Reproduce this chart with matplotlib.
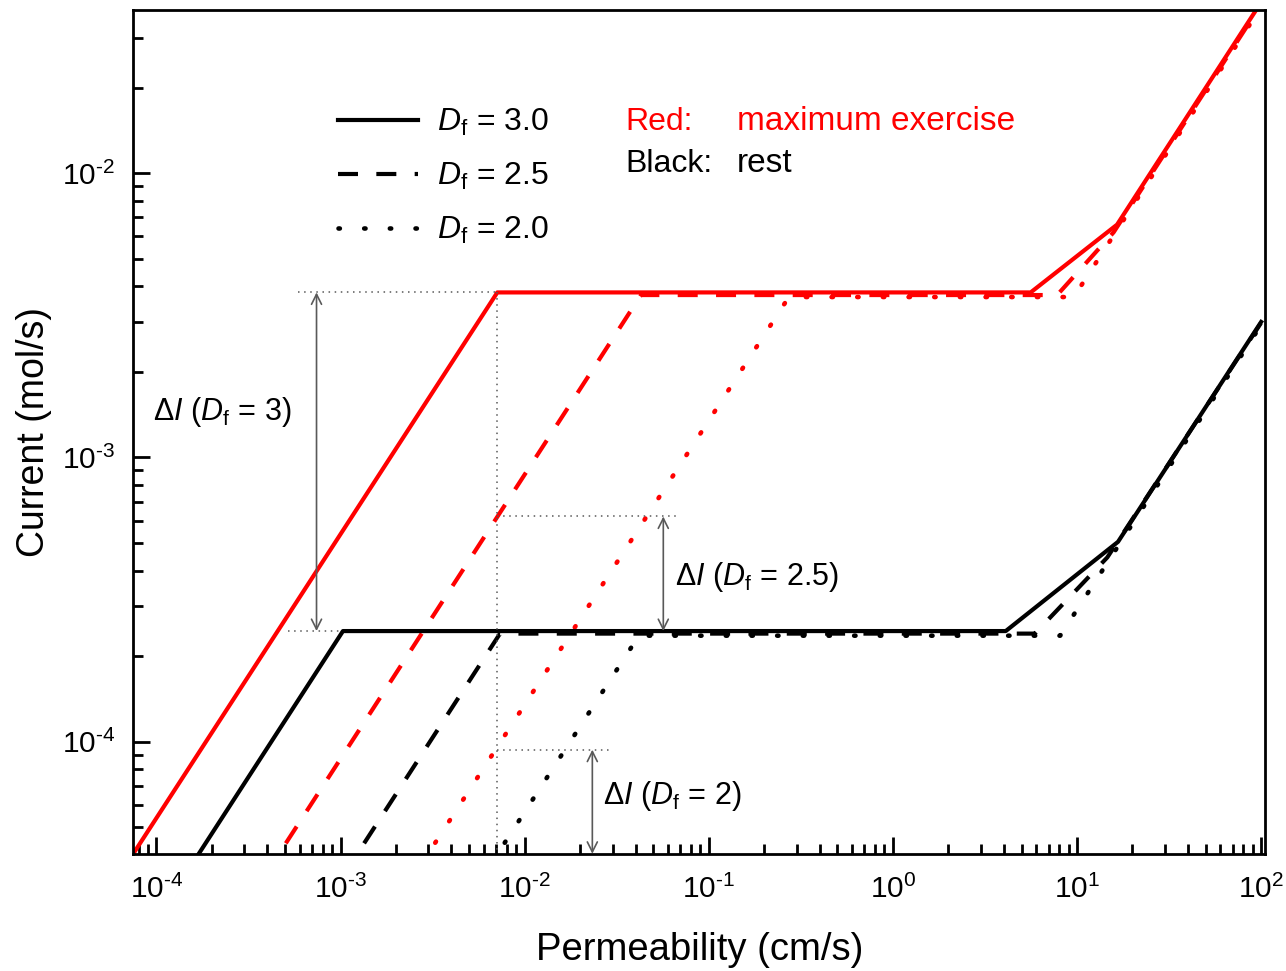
import numpy as np
import matplotlib.pyplot as plt
from matplotlib.lines import Line2D
from matplotlib.ticker import FixedLocator, LogLocator, FuncFormatter, NullFormatter

plt.rcParams['font.family'] = ['Liberation Sans', 'DejaVu Sans']
plt.rcParams['mathtext.fontset'] = 'custom'
plt.rcParams['mathtext.rm'] = 'Liberation Sans'
plt.rcParams['mathtext.it'] = 'Liberation Sans:italic'
plt.rcParams['mathtext.bf'] = 'Liberation Sans:bold'

# データ（グラフから読み取った折れ線の頂点）
# 赤: maximum exercise
p_red_30 = [1e-5, 7.1e-3, 5.6, 16.5, 100]
i_red_30 = [5.4e-6, 3.81e-3, 3.81e-3, 6.6e-3, 0.040]
p_red_25 = [1e-5, 0.0428, 7.8, 15.8, 100]
i_red_25 = [8.7e-7, 3.73e-3, 3.73e-3, 6.2e-3, 0.0393]
p_red_20 = [1e-5, 0.272, 9.6, 100]
i_red_20 = [1.35e-7, 3.67e-3, 3.67e-3, 0.0385]
# 黒: rest
p_blk_30 = [1e-5, 1.03e-3, 4.1, 16.7, 100]
i_blk_30 = [2.37e-6, 2.45e-4, 2.45e-4, 5.05e-4, 3.0e-3]
p_blk_25 = [1e-5, 7.34e-3, 5.9, 14.6, 100]
i_blk_25 = [3.27e-7, 2.40e-4, 2.40e-4, 4.45e-4, 2.98e-3]
p_blk_20 = [1e-5, 0.0417, 8.1, 100]
i_blk_20 = [5.66e-8, 2.36e-4, 2.36e-4, 2.93e-3]

# ΔI の補助線と矢印
p_ref = 7.1e-3
i_top3, i_bot = 3.81e-3, 2.45e-4
i_top25 = 6.2e-4
i_top2, i_min = 9.37e-5, 4.03e-5
p_arrow = [7.4e-4, 0.0566, 0.0233]
labels_df = ['3.0', '2.5', '2.0']

x_major = [1e-4, 1e-3, 1e-2, 1e-1, 1e0, 1e1, 1e2]
y_major = [1e-4, 1e-3, 1e-2]

solid = '-'
dashed = (0, (4.8, 4.4))
dotted = (0, (0.3, 5.3))
lw = 3

fig = plt.figure(figsize=(12.86, 9.71), dpi=100)
ax = fig.add_axes([0.1038, 0.1207, 0.8799, 0.8691])

ax.plot(p_red_30, i_red_30, color='red', lw=lw, ls=solid)
ax.plot(p_red_25, i_red_25, color='red', lw=lw, ls=dashed)
ax.plot(p_red_20, i_red_20, color='red', lw=3.3, ls=dotted, dash_capstyle='round')
ax.plot(p_blk_30, i_blk_30, color='black', lw=lw, ls=solid)
ax.plot(p_blk_25, i_blk_25, color='black', lw=lw, ls=dashed)
ax.plot(p_blk_20, i_blk_20, color='black', lw=3.3, ls=dotted, dash_capstyle='round')

gs = dict(color='0.35', lw=1.1, ls=(0, (1, 3)))
ax.plot([5.86e-4, p_ref], [i_top3, i_top3], **gs)
ax.plot([5.18e-4, 1.03e-3], [i_bot, i_bot], **gs)
ax.plot([p_ref, p_ref], [i_top3, 1e-5], **gs)
ax.plot([p_ref, 0.068], [i_top25, i_top25], **gs)
ax.plot([p_ref, 0.030], [i_top2, i_top2], **gs)

ap = dict(arrowstyle='<->', color='0.35', lw=1.2, shrinkA=0, shrinkB=0,
          mutation_scale=18)
ax.annotate('', xy=(p_arrow[0], i_top3), xytext=(p_arrow[0], i_bot), arrowprops=ap)
ax.annotate('', xy=(p_arrow[1], i_top25), xytext=(p_arrow[1], i_bot), arrowprops=ap)
ax.annotate('', xy=(p_arrow[2], i_top2), xytext=(p_arrow[2], i_min), arrowprops=ap)

fs = 22
ax.text(9.55e-5, 1.35e-3, r'$\Delta I$ ($D_\mathrm{f}$ = 3)', fontsize=fs, va='baseline')
ax.text(0.0656, 3.55e-4, r'$\Delta I$ ($D_\mathrm{f}$ = 2.5)', fontsize=fs, va='baseline')
ax.text(0.0265, 6.05e-5, r'$\Delta I$ ($D_\mathrm{f}$ = 2)', fontsize=fs, va='baseline')

ax.text(0.4344, 0.8577, 'Red:', color='red', fontsize=23, transform=ax.transAxes)
ax.text(0.5334, 0.8577, 'maximum exercise', color='red', fontsize=24, transform=ax.transAxes)
ax.text(0.4344, 0.8083, 'Black:', color='black', fontsize=23, transform=ax.transAxes)
ax.text(0.5334, 0.8083, 'rest', color='black', fontsize=24, transform=ax.transAxes)

handles = [Line2D([], [], color='black', lw=lw, ls=solid),
           Line2D([], [], color='black', lw=lw, ls=dashed),
           Line2D([], [], color='black', lw=3.3, ls=dotted, dash_capstyle='round')]
ax.legend(handles, [r'$D_\mathrm{f}$ = ' + s for s in labels_df],
          loc='upper left', bbox_to_anchor=(0.1807, 0.885), frameon=False,
          fontsize=23, handlelength=2.5, handletextpad=0.6, labelspacing=0.72,
          borderpad=0, borderaxespad=0)

ax.set_xscale('log')
ax.set_yscale('log')
ax.set_xlim(7.5e-5, 105)
ax.set_ylim(4.03e-5, 0.0376)


def fmt(v, pos):
    e = int(round(np.log10(v)))
    if e < 0:
        return '$\\mathregular{10^{\u2010%d}}$' % (-e)
    return '$\\mathregular{10^{%d}}$' % e


ax.xaxis.set_major_locator(FixedLocator(x_major))
ax.yaxis.set_major_locator(FixedLocator(y_major))
for axis in (ax.xaxis, ax.yaxis):
    axis.set_minor_locator(LogLocator(base=10, subs=np.arange(2, 10)))
    axis.set_major_formatter(FuncFormatter(fmt))
    axis.set_minor_formatter(NullFormatter())

ax.set_xlabel('Permeability (cm/s)', fontsize=27.5, labelpad=20)
ax.set_ylabel('Current (mol/s)', fontsize=27, labelpad=7)

for s in ax.spines.values():
    s.set_linewidth(2)
ax.tick_params(which='both', direction='in', top=False, right=False, width=2,
               labelsize=21.5)
ax.tick_params(which='major', length=12)
ax.tick_params(which='minor', length=7)
ax.tick_params(axis='x', which='major', pad=15)
ax.tick_params(axis='y', which='major', pad=13)

fig.savefig('out.png', dpi=100)
